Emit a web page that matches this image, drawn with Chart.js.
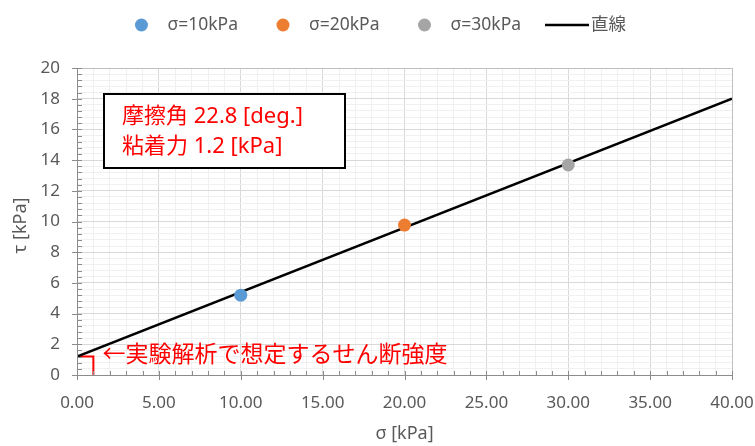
<!DOCTYPE html>
<html>
<head>
<meta charset="utf-8">
<script src="https://cdn.jsdelivr.net/npm/chart.js@4/dist/chart.umd.min.js"></script>
<style>
  html, body { margin: 0; padding: 0; background: #fff; }
  #wrap { width: 755px; height: 446px; position: relative; }
</style>
</head>
<body>
<div id="wrap"><canvas id="c" width="755" height="446"></canvas></div>
<script>
// ---- data ----
const seriesLabels = ['σ=10kPa', 'σ=20kPa', 'σ=30kPa'];
const sigma = [10, 20, 30];
const tau = [5.2, 9.77, 13.68];
const seriesColors = ['#5B9BD5', '#ED7D31', '#A5A5A5'];
const lineLabel = '直線';
const lineX = [0, 40];
const lineY = [1.2, 18];
const xTickLabels = [0, 5, 10, 15, 20, 25, 30, 35, 40];
const yTickLabels = [0, 2, 4, 6, 8, 10, 12, 14, 16, 18, 20];
const xTitle = 'σ [kPa]';
const yTitle = 'τ [kPa]';
const boxLines = ['摩擦角 22.8 [deg.]', '粘着力 1.2 [kPa]'];
const cohesion = 1.2;
const noteText = '←実験解析で想定するせん断強度';

const LATIN = '"Noto Sans", "Noto Sans CJK JP", sans-serif';
const CJK = '"Noto Sans CJK JP", "Noto Sans", sans-serif';
const TXT = '#595959';

const isMajorX = v => xTickLabels.some(t => Math.abs(t - v) < 1e-6);
const isMajorY = v => yTickLabels.some(t => Math.abs(t - v) < 1e-6);

const datasets = sigma.map((s, i) => ({
  type: 'scatter',
  label: seriesLabels[i],
  data: [{ x: s, y: tau[i] }],
  backgroundColor: seriesColors[i],
  borderColor: seriesColors[i],
  pointRadius: 6.5,
  pointHoverRadius: 6.5,
  borderWidth: 0
}));
datasets.push({
  type: 'line',
  label: lineLabel,
  data: lineX.map((x, i) => ({ x: x, y: lineY[i] })),
  borderColor: '#000000',
  borderWidth: 2.5,
  pointRadius: 0,
  fill: false,
  tension: 0
});

const decorPlugin = {
  id: 'decor',
  beforeDatasetsDraw(chart) {
    const ctx = chart.ctx, xs = chart.scales.x, ys = chart.scales.y;
    ctx.save();
    ctx.strokeStyle = '#FF0000';
    ctx.lineWidth = 2;
    ctx.beginPath();
    ctx.moveTo(xs.getPixelForValue(0), ys.getPixelForValue(cohesion));
    ctx.lineTo(xs.getPixelForValue(1), ys.getPixelForValue(cohesion));
    ctx.lineTo(xs.getPixelForValue(1), ys.getPixelForValue(0));
    ctx.stroke();
    ctx.restore();
  },
  afterDraw(chart) {
    const ctx = chart.ctx, xs = chart.scales.x, ys = chart.scales.y, ca = chart.chartArea;
    ctx.save();
    // axis lines
    ctx.strokeStyle = '#8C8C8C';
    ctx.lineWidth = 1;
    ctx.beginPath();
    ctx.moveTo(ca.left + 0.5, ca.top);
    ctx.lineTo(ca.left + 0.5, ca.bottom + 0.5);
    ctx.lineTo(ca.right, ca.bottom + 0.5);
    ctx.stroke();
    // ticks
    ctx.beginPath();
    xs.ticks.forEach(t => {
      const px = Math.round(xs.getPixelForValue(t.value)) + 0.5;
      if (isMajorX(t.value)) { ctx.moveTo(px, ca.bottom - 4); ctx.lineTo(px, ca.bottom + 5); }
      else { ctx.moveTo(px, ca.bottom - 4); ctx.lineTo(px, ca.bottom); }
    });
    ys.ticks.forEach(t => {
      const py = Math.round(ys.getPixelForValue(t.value)) + 0.5;
      if (isMajorY(t.value)) { ctx.moveTo(ca.left - 5, py); ctx.lineTo(ca.left + 5, py); }
      else { ctx.moveTo(ca.left, py); ctx.lineTo(ca.left + 5, py); }
    });
    ctx.stroke();

    // axis titles
    ctx.fillStyle = TXT;
    ctx.font = '18px ' + LATIN;
    ctx.textAlign = 'center';
    ctx.textBaseline = 'middle';
    ctx.fillText(xTitle, (ca.left + ca.right) / 2, ca.bottom + 59);
    ctx.save();
    ctx.translate(21, (ca.top + ca.bottom) / 2 + 4);
    ctx.rotate(-Math.PI / 2);
    ctx.fillText(yTitle, 0, 0);
    ctx.restore();

    // text box
    const bx = ca.left + 27, by = ca.top + 26, bw = 241, bh = 74;
    ctx.fillStyle = '#FFFFFF';
    ctx.fillRect(bx, by, bw, bh);
    ctx.strokeStyle = '#000000';
    ctx.lineWidth = 2;
    ctx.strokeRect(bx, by, bw, bh);
    ctx.fillStyle = '#FF0000';
    ctx.font = '22px ' + LATIN;
    ctx.textBaseline = 'middle';
    ctx.textAlign = 'left';
    ctx.fillText(boxLines[0], bx + 18, by + 23);
    ctx.fillText(boxLines[1], bx + 18, by + 53);

    // annotation note
    ctx.font = '23px ' + CJK;
    ctx.fillText(noteText, xs.getPixelForValue(1) + 9, ys.getPixelForValue(cohesion) - 3);

    // legend
    ctx.font = '17.5px ' + LATIN;
    const items = chart.data.datasets.map(d => ({ d: d, w: ctx.measureText(d.label).width }));
    items.forEach(it => { it.sym = it.d.type === 'line' ? 46 : 32.5; });
    const gapOf = i => (i + 1 < items.length && items[i + 1].d.type === 'line') ? 24 : 38.5;
    let total = 0;
    items.forEach((it, i) => { total += it.sym + it.w + (i < items.length - 1 ? gapOf(i) : 0); });
    let x = chart.width / 2 - total / 2 + 3;
    const ly = 25;
    items.forEach((it, i) => {
      if (it.d.type === 'line') {
        ctx.strokeStyle = it.d.borderColor;
        ctx.lineWidth = 2.5;
        ctx.beginPath();
        ctx.moveTo(x, ly);
        ctx.lineTo(x + 44, ly);
        ctx.stroke();
      } else {
        ctx.fillStyle = it.d.backgroundColor;
        ctx.beginPath();
        ctx.arc(x + 6.5, ly, 6.5, 0, Math.PI * 2);
        ctx.fill();
      }
      ctx.fillStyle = TXT;
      ctx.fillText(it.d.label, x + it.sym, ly);
      x += it.sym + it.w + gapOf(i);
    });
    ctx.restore();
  }
};

new Chart(document.getElementById('c'), {
  data: { datasets: datasets },
  options: {
    responsive: false,
    animation: false,
    events: [],
    layout: { padding: { top: 68, right: 23, left: 0, bottom: 0 } },
    plugins: { legend: { display: false }, tooltip: { enabled: false } },
    scales: {
      x: {
        type: 'linear',
        min: 0, max: 40,
        afterFit: s => { s.height = 71; s.paddingLeft = 0; s.paddingRight = 0; },
        border: { display: false },
        grid: {
          drawTicks: false,
          color: c => (c.tick && Math.abs(c.tick.value - 40) < 1e-6) ? '#BFBFBF' : (c.tick && isMajorX(c.tick.value) ? '#D9D9D9' : '#F0F0F0'),
          lineWidth: 1
        },
        ticks: {
          stepSize: 1,
          autoSkip: false,
          maxRotation: 0,
          padding: 18,
          color: TXT,
          font: { family: LATIN, size: 17 },
          callback: v => isMajorX(v) ? Number(v).toFixed(2) : ''
        },
        title: { display: false }
      },
      y: {
        type: 'linear',
        min: 0, max: 20,
        afterFit: s => { s.width = 77; s.paddingTop = 0; s.paddingBottom = 0; },
        border: { display: false },
        grid: {
          drawTicks: false,
          color: c => (c.tick && Math.abs(c.tick.value - 20) < 1e-6) ? '#BFBFBF' : (c.tick && isMajorY(c.tick.value) ? '#D9D9D9' : '#F0F0F0'),
          lineWidth: 1
        },
        ticks: {
          stepSize: 0.4,
          autoSkip: false,
          padding: 17,
          color: TXT,
          font: { family: LATIN, size: 17 },
          callback: v => isMajorY(v) ? String(Math.round(v)) : ''
        },
        title: { display: false }
      }
    }
  },
  plugins: [decorPlugin]
});
</script>
</body>
</html>
